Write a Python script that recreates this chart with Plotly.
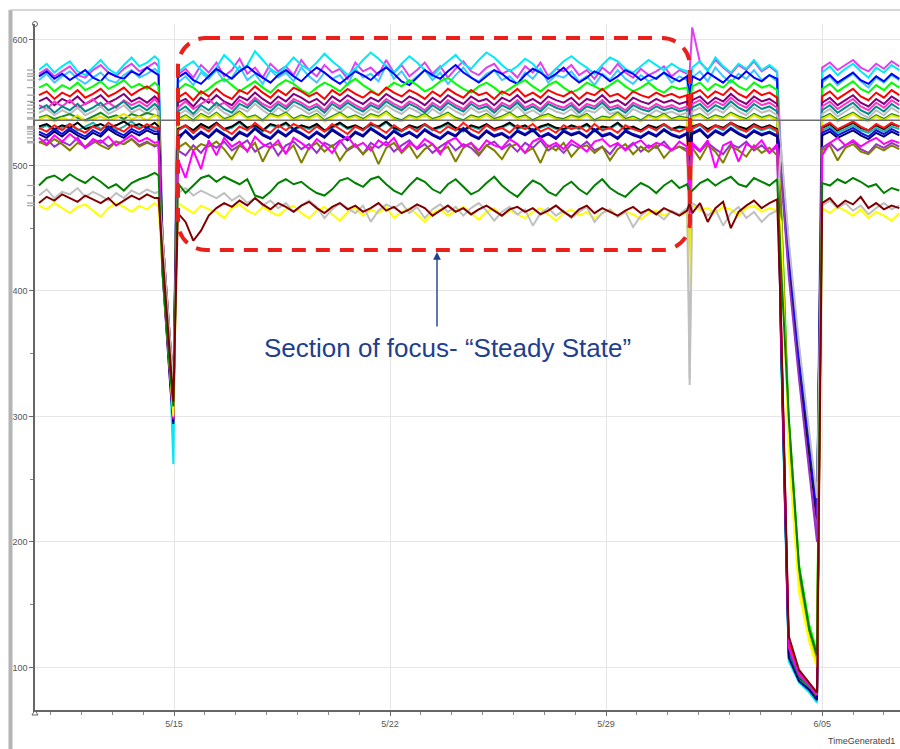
import plotly.graph_objects as go
import pandas as pd

# ------------------------------------------------------------------
# Time layout of the record: steady runs separated by shutdown dips.
# ------------------------------------------------------------------
SEG_A = ("2022-05-10 15:00", "2022-05-14 09:00")
DROP1_TIMES = ["2022-05-14 12:00", "2022-05-14 15:00", "2022-05-14 21:00", "2022-05-14 23:30"]
SEG_B = ("2022-05-15 03:00", "2022-05-31 15:00")
TRIP_TIMES = ["2022-05-31 17:00"]
SEG_C = ("2022-05-31 19:00", "2022-06-03 13:00")
DROP2_TIMES = ["2022-06-03 16:00", "2022-06-03 22:00", "2022-06-04 06:00", "2022-06-04 14:00", "2022-06-04 20:00"]
SEG_D = ("2022-06-05 00:00", "2022-06-07 12:00")
SEGMENTS = [SEG_A, DROP1_TIMES, SEG_B, TRIP_TIMES, SEG_C, DROP2_TIMES, SEG_D]

week_ticks = ["2022-05-15", "2022-05-22", "2022-05-29", "2022-06-05"]
week_labels = ["5/15", "5/22", "5/29", "6/05"]
y_ticks = [100, 200, 300, 400, 500, 600]
ref_level = 536

# ------------------------------------------------------------------
# Sensor readings, one list per segment: A, drop 1, B, trip, C, drop 2, D
# ------------------------------------------------------------------
magenta_hi = [
    [573, 577, 571, 575, 579, 572, 570, 576, 580, 574, 571, 577, 581, 575, 578, 582],
    [579, 445, 360, 325],
    [572, 577, 570, 580, 574, 582, 571, 576, 585, 573, 578, 570, 581, 575, 579, 572, 584, 576, 571, 580, 574, 577, 569, 582, 575, 578, 572, 584, 574, 580, 571, 576, 582, 573, 579, 570, 577, 583, 575, 572, 578, 581, 573, 576, 570, 579, 574, 582, 571, 577, 575, 580, 572, 576, 569, 578, 573, 581, 574, 570, 577, 572, 575, 579, 571, 576, 573],
    [575],
    [610, 582, 576, 584, 578, 573, 580, 576, 583, 575, 579, 574],
    [510, 432, 348, 275, 215],
    [578, 582, 576, 580, 584, 578, 575, 581, 577, 583, 579],
]
sky = [
    [568, 573, 566, 571, 575, 569, 565, 570, 574, 568, 566, 572, 576, 570, 573, 577],
    [574, 440, 352, 318],
    [566, 571, 564, 574, 569, 576, 567, 570, 579, 568, 573, 565, 576, 570, 574, 567, 578, 571, 566, 574, 569, 572, 564, 577, 570, 573, 567, 580, 569, 575, 566, 571, 576, 568, 574, 565, 572, 578, 570, 567, 573, 576, 568, 571, 565, 574, 569, 577, 566, 572, 570, 575, 567, 571, 564, 573, 568, 576, 569, 565, 572, 567, 570, 574, 566, 571, 568],
    [545],
    [570, 575, 567, 578, 571, 566, 573, 569, 576, 568, 572, 567],
    [505, 428, 350, 282, 228],
    [566, 571, 564, 569, 573, 567, 562, 570, 566, 572, 568],
]
cyan = [
    [576, 581, 574, 579, 583, 575, 572, 578, 584, 577, 573, 580, 586, 579, 582, 587],
    [584, 428, 333, 262],
    [574, 579, 583, 576, 571, 578, 588, 582, 575, 580, 591, 584, 577, 573, 579, 586, 580, 576, 582, 589, 583, 578, 572, 577, 584, 590, 585, 579, 574, 581, 587, 582, 576, 571, 578, 583, 588, 581, 577, 584, 590, 586, 580, 575, 579, 585, 581, 574, 570, 577, 583, 587, 582, 578, 573, 580, 586, 583, 577, 574, 579, 584, 580, 576, 581, 577, 575],
    [560],
    [578, 583, 575, 586, 579, 574, 581, 577, 584, 576, 580, 575],
    [352, 105, 88, 80, 72],
    [574, 579, 572, 577, 581, 575, 570, 578, 574, 580, 576],
]
blue = [
    [571, 575, 569, 573, 568, 572, 576, 570, 567, 574, 571, 569, 575, 572, 578, 574],
    [572, 420, 338, 300],
    [570, 574, 568, 565, 571, 577, 573, 569, 575, 579, 574, 570, 566, 572, 576, 571, 567, 573, 578, 574, 569, 565, 570, 575, 572, 568, 574, 578, 573, 567, 564, 570, 576, 572, 569, 575, 580, 574, 570, 566, 571, 576, 573, 568, 565, 572, 577, 574, 569, 573, 578, 571, 566, 570, 575, 572, 567, 571, 576, 573, 568, 572, 569, 574, 570, 567, 571],
    [555],
    [571, 568, 574, 570, 566, 572, 569, 575, 570, 567, 572, 569],
    [365, 112, 92, 83, 76],
    [568, 572, 566, 570, 574, 568, 565, 571, 567, 573, 569],
]
lime = [
    [562, 565, 559, 564, 561, 566, 560, 563, 567, 561, 564, 568, 562, 565, 561, 566],
    [563, 432, 340, 310],
    [560, 565, 562, 557, 561, 566, 569, 564, 559, 563, 567, 562, 558, 564, 568, 565, 560, 557, 562, 566, 563, 559, 565, 569, 564, 560, 556, 561, 566, 563, 568, 564, 559, 562, 567, 570, 565, 561, 558, 563, 566, 562, 557, 561, 565, 568, 563, 559, 564, 567, 562, 558, 561, 566, 563, 560, 564, 568, 563, 559, 562, 566, 561, 558, 563, 561, 562],
    [548],
    [563, 566, 560, 565, 562, 568, 563, 560, 566, 562, 564, 560],
    [470, 298, 182, 134, 112],
    [561, 565, 559, 563, 567, 561, 558, 564, 560, 566, 562],
]
red = [
    [556, 559, 553, 558, 555, 560, 554, 557, 561, 555, 558, 562, 556, 560, 563, 559],
    [557, 425, 330, 298],
    [554, 558, 552, 559, 555, 561, 556, 553, 560, 557, 563, 558, 554, 560, 556, 562, 559, 555, 558, 553, 560, 556, 561, 557, 554, 559, 556, 562, 558, 555, 560, 557, 553, 559, 555, 561, 557, 554, 560, 556, 558, 553, 559, 556, 561, 555, 558, 554, 560, 557, 555, 559, 553, 558, 556, 561, 555, 557, 553, 559, 556, 554, 558, 555, 557, 554, 556],
    [380],
    [557, 560, 554, 559, 556, 562, 557, 554, 560, 556, 558, 554],
    [372, 118, 94, 86, 78],
    [555, 559, 553, 557, 561, 555, 552, 558, 554, 560, 556],
]
purple = [
    [551, 554, 548, 553, 550, 555, 549, 552, 556, 550, 553, 557, 551, 554, 550, 555],
    [552, 438, 345, 315],
    [550, 553, 547, 554, 550, 556, 551, 548, 555, 552, 558, 553, 549, 555, 551, 557, 554, 550, 553, 548, 555, 551, 556, 552, 549, 554, 551, 557, 553, 550, 555, 552, 548, 554, 550, 556, 552, 549, 555, 551, 553, 548, 554, 551, 556, 550, 553, 549, 555, 552, 550, 554, 548, 553, 551, 556, 550, 552, 548, 554, 551, 549, 553, 550, 552, 549, 551],
    [540],
    [552, 555, 549, 554, 551, 557, 552, 549, 555, 551, 553, 549],
    [498, 418, 335, 262, 210],
    [550, 554, 548, 552, 556, 550, 547, 553, 549, 555, 551],
]
pink = [
    [548, 545, 551, 547, 552, 546, 549, 553, 547, 550, 546, 552, 548, 551, 547, 553],
    [549, 418, 328, 296],
    [546, 551, 545, 549, 553, 547, 550, 545, 552, 548, 554, 549, 546, 551, 547, 553, 550, 546, 549, 544, 551, 547, 552, 548, 545, 550, 547, 553, 549, 546, 551, 548, 544, 550, 546, 552, 548, 545, 551, 547, 549, 544, 550, 547, 552, 546, 549, 545, 551, 548, 546, 550, 544, 549, 547, 552, 546, 548, 544, 550, 547, 545, 549, 546, 548, 545, 547],
    [530],
    [549, 552, 546, 551, 548, 554, 549, 546, 552, 548, 550, 546],
    [505, 425, 340, 268, 205],
    [547, 551, 545, 549, 553, 547, 544, 550, 546, 552, 548],
]
teal = [
    [545, 548, 542, 547, 544, 549, 543, 546, 550, 544, 547, 551, 545, 548, 544, 549],
    [546, 424, 334, 305],
    [543, 547, 541, 548, 544, 550, 545, 542, 549, 546, 552, 547, 543, 549, 545, 551, 548, 544, 547, 542, 549, 545, 550, 546, 543, 548, 545, 551, 547, 544, 549, 546, 542, 548, 544, 550, 546, 543, 549, 545, 547, 542, 548, 545, 550, 544, 547, 543, 549, 546, 544, 548, 542, 547, 545, 550, 544, 546, 542, 548, 545, 543, 547, 544, 546, 543, 545],
    [525],
    [546, 549, 543, 548, 545, 551, 546, 543, 549, 545, 547, 543],
    [360, 110, 90, 84, 77],
    [544, 548, 542, 546, 550, 544, 541, 547, 543, 549, 545],
]
silver_hi = [
    [542, 545, 540, 544, 541, 546, 540, 543, 547, 541, 544, 548, 542, 545, 541, 546],
    [543, 442, 355, 322],
    [540, 544, 539, 545, 541, 547, 542, 539, 546, 543, 549, 544, 540, 546, 542, 548, 545, 541, 544, 539, 546, 542, 547, 543, 540, 545, 542, 548, 544, 541, 546, 543, 539, 545, 541, 547, 543, 540, 546, 542, 544, 539, 545, 542, 547, 541, 544, 540, 546, 543, 541, 545, 539, 544, 542, 547, 541, 543, 539, 545, 542, 540, 544, 541, 543, 540, 542],
    [330],
    [543, 546, 540, 545, 542, 548, 543, 540, 546, 542, 544, 540],
    [512, 438, 352, 284, 230],
    [541, 545, 539, 543, 547, 541, 538, 544, 540, 546, 542],
]
green_hi = [
    [538, 540, 537, 539, 541, 538, 536, 539, 542, 538, 540, 537, 541, 539, 542, 540],
    [539, 428, 336, 302],
    [537, 540, 536, 541, 538, 542, 537, 539, 543, 538, 540, 536, 541, 539, 542, 537, 540, 538, 541, 536, 539, 542, 538, 540, 537, 541, 539, 543, 538, 536, 540, 538, 541, 537, 539, 542, 538, 536, 540, 538, 541, 537, 539, 542, 538, 540, 536, 539, 541, 538, 537, 540, 538, 541, 536, 539, 538, 542, 537, 539, 536, 540, 538, 541, 537, 539, 538],
    [520],
    [539, 541, 537, 540, 538, 542, 539, 537, 541, 538, 540, 537],
    [368, 115, 93, 85, 76],
    [538, 541, 536, 539, 542, 538, 536, 540, 537, 541, 539],
]
gold_hi = [
    [537, 539, 535, 538, 536, 540, 535, 537, 539, 536, 538, 541, 537, 539, 536, 540],
    [538, 435, 348, 320],
    [536, 539, 535, 540, 537, 541, 536, 538, 542, 537, 539, 535, 540, 538, 541, 536, 539, 537, 540, 535, 538, 541, 537, 539, 536, 540, 538, 542, 537, 535, 539, 537, 540, 536, 538, 541, 537, 535, 539, 537, 540, 536, 538, 541, 537, 539, 535, 538, 540, 537, 536, 539, 537, 540, 535, 538, 537, 541, 536, 538, 535, 539, 537, 540, 536, 538, 537],
    [400],
    [538, 540, 536, 539, 537, 541, 538, 536, 540, 537, 539, 536],
    [462, 285, 170, 125, 104],
    [537, 540, 535, 538, 541, 537, 535, 539, 536, 540, 538],
]
seagreen = [
    [529, 532, 527, 530, 533, 528, 531, 534, 529, 532, 528, 531, 535, 530, 532, 529],
    [529, 440, 355, 320],
    [528, 531, 526, 532, 529, 533, 528, 530, 534, 529, 531, 527, 532, 530, 533, 528, 531, 529, 532, 527, 530, 533, 529, 531, 528, 532, 530, 534, 529, 527, 531, 529, 532, 528, 530, 533, 529, 527, 531, 529, 532, 528, 530, 533, 529, 531, 527, 530, 532, 529, 528, 531, 529, 532, 527, 530, 529, 533, 528, 530, 527, 531, 529, 532, 528, 530, 529],
    [505],
    [529, 532, 527, 531, 528, 533, 529, 527, 531, 528, 530, 527],
    [506, 428, 345, 280, 226],
    [528, 531, 526, 529, 532, 528, 526, 530, 527, 531, 529],
]
black = [
    [531, 533, 529, 532, 530, 534, 529, 531, 533, 530, 532, 535, 531, 533, 530, 534],
    [531, 445, 358, 324],
    [529, 532, 528, 533, 530, 534, 529, 531, 535, 530, 532, 528, 533, 531, 534, 529, 532, 530, 533, 528, 531, 534, 530, 532, 529, 533, 531, 535, 530, 528, 532, 530, 533, 529, 531, 534, 530, 528, 532, 530, 533, 529, 531, 534, 530, 532, 528, 531, 533, 530, 529, 532, 530, 533, 528, 531, 530, 534, 529, 531, 528, 532, 530, 533, 529, 531, 530],
    [515],
    [531, 533, 529, 532, 530, 534, 531, 529, 533, 530, 532, 529],
    [500, 420, 338, 270, 218],
    [530, 533, 528, 531, 534, 530, 528, 532, 529, 533, 531],
]
red_lo = [
    [530, 527, 532, 528, 533, 529, 526, 531, 528, 534, 530, 527, 532, 529, 533, 530],
    [530, 422, 332, 300],
    [528, 532, 526, 531, 527, 533, 529, 525, 531, 528, 534, 529, 526, 532, 528, 533, 530, 526, 531, 527, 533, 529, 525, 531, 528, 534, 530, 526, 532, 528, 531, 527, 533, 529, 526, 531, 528, 534, 529, 526, 532, 528, 530, 526, 532, 529, 533, 527, 530, 526, 532, 529, 531, 527, 533, 528, 530, 526, 532, 529, 527, 531, 528, 533, 529, 527, 530],
    [470],
    [530, 533, 527, 532, 529, 534, 530, 527, 532, 529, 531, 528],
    [376, 120, 96, 87, 79],
    [531, 534, 529, 532, 535, 531, 528, 533, 530, 534, 531],
]
blue_lo = [
    [527, 524, 529, 525, 530, 526, 523, 528, 525, 531, 527, 524, 529, 526, 530, 527],
    [527, 436, 350, 316],
    [520, 528, 522, 527, 523, 529, 525, 521, 527, 524, 530, 525, 522, 528, 524, 529, 526, 522, 527, 523, 529, 525, 521, 527, 524, 530, 526, 522, 528, 524, 527, 523, 529, 525, 522, 527, 524, 530, 525, 522, 528, 524, 526, 522, 528, 525, 529, 523, 526, 522, 528, 525, 527, 523, 529, 524, 526, 522, 528, 525, 523, 527, 524, 529, 525, 523, 526],
    [500],
    [526, 529, 523, 528, 525, 530, 526, 523, 528, 525, 527, 524],
    [508, 430, 345, 278, 222],
    [526, 529, 524, 527, 530, 526, 523, 528, 525, 529, 526],
]
navy = [
    [525, 522, 527, 523, 528, 524, 521, 526, 523, 529, 525, 522, 527, 524, 528, 525],
    [525, 416, 326, 294],
    [523, 527, 521, 526, 522, 528, 524, 520, 526, 523, 529, 524, 521, 527, 523, 528, 525, 521, 526, 522, 528, 524, 520, 526, 523, 529, 525, 521, 527, 523, 526, 522, 528, 524, 521, 526, 523, 529, 524, 521, 527, 523, 525, 521, 527, 524, 528, 522, 525, 521, 527, 524, 526, 522, 528, 523, 525, 521, 527, 524, 522, 526, 523, 528, 524, 522, 525],
    [510],
    [525, 528, 522, 527, 524, 529, 525, 522, 527, 524, 526, 523],
    [362, 108, 89, 82, 74],
    [524, 527, 522, 525, 528, 524, 521, 526, 523, 527, 524],
]
violet = [
    [518, 521, 515, 519, 516, 522, 514, 518, 520, 515, 519, 517, 521, 516, 519, 515],
    [517, 430, 342, 312],
    [512, 508, 516, 510, 518, 514, 519, 512, 516, 520, 511, 515, 518, 508, 516, 519, 513, 517, 510, 518, 515, 520, 512, 516, 509, 518, 514, 519, 511, 516, 520, 513, 517, 510, 515, 519, 512, 517, 514, 508, 516, 519, 513, 517, 511, 518, 514, 520, 512, 516, 510, 517, 514, 519, 512, 515, 509, 517, 513, 518, 511, 516, 514, 519, 512, 515, 513],
    [495],
    [516, 511, 518, 513, 509, 517, 514, 519, 512, 516, 510, 515],
    [495, 412, 330, 258, 200],
    [514, 518, 512, 516, 519, 513, 510, 517, 514, 518, 515],
]
olive = [
    [519, 516, 521, 517, 512, 518, 515, 520, 516, 513, 519, 517, 521, 515, 518, 516],
    [516, 426, 337, 306],
    [514, 518, 512, 517, 515, 519, 513, 505, 516, 512, 518, 503, 515, 517, 510, 516, 502, 514, 518, 511, 516, 504, 513, 517, 509, 515, 501, 514, 518, 510, 516, 506, 513, 517, 511, 515, 503, 514, 518, 509, 516, 512, 505, 515, 517, 510, 514, 502, 516, 512, 518, 507, 514, 516, 510, 515, 504, 513, 517, 509, 515, 511, 516, 506, 513, 515, 511],
    [485],
    [514, 505, 516, 511, 502, 515, 512, 507, 516, 510, 514, 508],
    [468, 290, 176, 130, 108],
    [512, 516, 504, 514, 517, 511, 509, 515, 512, 516, 513],
]
magenta_lo = [
    [522, 517, 524, 519, 525, 520, 514, 521, 518, 523, 516, 520, 524, 519, 522, 518],
    [519, 420, 330, 298],
    [505, 490, 512, 497, 520, 508, 522, 515, 519, 511, 523, 517, 514, 520, 509, 522, 518, 513, 521, 516, 510, 519, 523, 515, 518, 512, 520, 516, 522, 511, 518, 514, 521, 517, 509, 519, 522, 515, 518, 512, 520, 516, 514, 521, 517, 510, 519, 522, 515, 518, 513, 520, 516, 511, 519, 521, 515, 518, 512, 517, 520, 514, 518, 516, 512, 519, 515],
    [460],
    [518, 512, 520, 498, 516, 519, 503, 517, 514, 520, 510, 517],
    [370, 116, 95, 86, 78],
    [508, 518, 522, 516, 520, 515, 519, 522, 517, 520, 518],
]
yellow_lo = [
    [468, 465, 470, 466, 462, 467, 469, 464, 459, 466, 470, 467, 463, 468, 465, 470],
    [467, 418, 330, 300],
    [470, 466, 462, 468, 465, 463, 458, 466, 469, 464, 461, 467, 463, 460, 465, 468, 462, 458, 464, 467, 461, 456, 463, 466, 460, 465, 462, 467, 458, 463, 466, 461, 455, 462, 465, 460, 464, 467, 462, 457, 463, 466, 460, 464, 461, 458, 463, 466, 461, 456, 462, 465, 460, 463, 458, 462, 465, 459, 463, 461, 457, 462, 464, 460, 463, 461, 462],
    [400],
    [468, 464, 466, 462, 467, 465, 460, 466, 468, 463, 466, 464],
    [455, 270, 160, 120, 100],
    [466, 462, 467, 464, 460, 465, 458, 463, 460, 456, 462],
]
silver_lo = [
    [476, 481, 474, 479, 477, 482, 475, 479, 476, 472, 478, 474, 480, 477, 481, 478],
    [479, 445, 360, 328],
    [478, 482, 476, 480, 477, 474, 478, 472, 476, 470, 474, 468, 472, 466, 470, 463, 468, 472, 467, 458, 465, 470, 466, 462, 468, 455, 464, 469, 466, 470, 462, 467, 458, 465, 469, 463, 467, 460, 466, 470, 464, 456, 463, 467, 461, 465, 452, 462, 466, 460, 464, 458, 463, 467, 455, 462, 465, 459, 463, 451, 460, 465, 462, 457, 464, 461, 466],
    [325],
    [470, 466, 460, 465, 452, 462, 467, 458, 463, 455, 461, 464],
    [515, 440, 358, 290, 235],
    [468, 472, 466, 470, 464, 468, 461, 466, 470, 465, 468],
]
green_lo = [
    [484, 490, 492, 488, 493, 489, 486, 491, 487, 482, 485, 480, 486, 489, 491, 494],
    [492, 415, 335, 308],
    [486, 478, 484, 490, 492, 487, 491, 488, 485, 489, 476, 474, 479, 486, 489, 485, 487, 482, 478, 476, 481, 488, 490, 486, 483, 489, 491, 485, 480, 477, 484, 490, 487, 481, 478, 485, 489, 483, 477, 480, 486, 491, 484, 479, 475, 482, 488, 485, 479, 476, 483, 487, 481, 477, 484, 489, 482, 478, 475, 481, 486, 483, 478, 484, 488, 482, 485],
    [478],
    [480, 486, 489, 484, 488, 491, 485, 483, 490, 487, 484, 489],
    [420, 300, 180, 130, 110],
    [486, 484, 489, 486, 490, 487, 483, 485, 478, 482, 480],
]
maroon = [
    [470, 475, 472, 477, 474, 471, 476, 473, 470, 474, 468, 472, 476, 473, 477, 474],
    [474, 430, 345, 312],
    [462, 455, 440, 448, 460, 466, 470, 467, 472, 468, 474, 469, 465, 470, 467, 463, 468, 471, 466, 462, 467, 470, 465, 468, 463, 466, 470, 464, 467, 462, 465, 469, 466, 460, 464, 468, 463, 466, 461, 465, 468, 464, 460, 465, 467, 463, 466, 461, 464, 468, 463, 459, 465, 468, 462, 466, 463, 460, 464, 467, 462, 465, 461, 466, 463, 460, 464],
    [470],
    [462, 470, 455, 466, 471, 450, 463, 468, 472, 466, 470, 473],
    [378, 125, 98, 88, 80],
    [470, 474, 467, 472, 469, 475, 466, 470, 465, 468, 466],
]

# Drawing order (first drawn sits underneath) and line colours
SERIES = [
    (magenta_hi, "#E040F0"), (sky, "#3EC8FF"), (cyan, "#00EAF5"), (blue, "#0000FF"),
    (lime, "#00FF00"), (red, "#FF0000"), (purple, "#800080"), (pink, "#FF33CC"),
    (teal, "#008B8B"), (silver_hi, "#BDBDBD"), (green_hi, "#1E8C1E"), (gold_hi, "#E6E600"),
    (seagreen, "#20B2AA"), (black, "#000000"), (red_lo, "#FF1A1A"), (blue_lo, "#1010E0"),
    (navy, "#000080"), (violet, "#9932CC"), (olive, "#808000"), (magenta_lo, "#FF00FF"),
    (yellow_lo, "#FFFF00"), (silver_lo, "#C0C0C0"), (green_lo, "#008000"), (maroon, "#800000"),
]


def seg_times(spec, n):
    if isinstance(spec, tuple):
        return list(pd.date_range(spec[0], spec[1], periods=n))
    if len(spec) == n:
        return list(pd.to_datetime(spec))
    return list(pd.date_range(spec[0], spec[-1], periods=n))


fig = go.Figure()
for vals, color in SERIES:
    xs, ys = [], []
    for spec, seg in zip(SEGMENTS, vals):
        xs += seg_times(spec, len(seg))
        ys += seg
    fig.add_trace(go.Scatter(x=xs, y=ys, mode="lines",
                             line=dict(color=color, width=2),
                             showlegend=False, hoverinfo="skip"))

# ---- pixel helpers for the plot frame (plot area 35..900 x 24..710) ----
W, H = 900, 749
ML, MR, MT, MB = 35, 0, 24, 39
PW, PH = W - ML - MR, H - MT - MB


def px(x):
    return (x - ML) / PW


def py(y):
    return (H - MB - y) / PH


shapes = []
# reference level line
shapes.append(dict(type="line", xref="paper", yref="y", x0=0, x1=1, y0=ref_level, y1=ref_level,
                   line=dict(color="#6E6E6E", width=1.5), layer="above"))
# start-value markers left of the value axis
for vals, color in SERIES:
    v0 = vals[0][0]
    shapes.append(dict(type="line", xref="paper", yref="y", x0=px(27), x1=px(34.5), y0=v0, y1=v0,
                       line=dict(color="#A8A8A8", width=1.3), layer="above"))

# rounded dashed box around the steady-state section
L, T, R, B, r = 178, 38, 690, 250, 28
k = 0.5523 * r


def P(x, y):
    return f"{px(x):.5f},{py(y):.5f}"


path = (f"M {P(L + r, T)} L {P(R - r, T)} "
        f"C {P(R - r + k, T)} {P(R, T + r - k)} {P(R, T + r)} "
        f"L {P(R, B - r)} "
        f"C {P(R, B - r + k)} {P(R - r + k, B)} {P(R - r, B)} "
        f"L {P(L + r, B)} "
        f"C {P(L + r - k, B)} {P(L, B - r + k)} {P(L, B - r)} "
        f"L {P(L, T + r)} "
        f"C {P(L, T + r - k)} {P(L + r - k, T)} {P(L + r, T)} Z")
shapes.append(dict(type="path", xref="paper", yref="paper", path=path,
                   line=dict(color="#E8211C", width=4, dash="14px,10px"), layer="above"))

# window frame: left bar and top rule
shapes.append(dict(type="rect", xref="paper", yref="paper", x0=px(8.5), x1=px(12.5),
                   y0=py(749), y1=py(10), line=dict(width=0), fillcolor="#B4B4B4", layer="above"))
shapes.append(dict(type="line", xref="paper", yref="paper", x0=px(10), x1=1.0, y0=py(10), y1=py(10),
                   line=dict(color="#C8C8C8", width=1.5), layer="above"))
# little axis end caps
shapes.append(dict(type="circle", xref="paper", yref="paper", x0=px(32.5), x1=px(37.5),
                   y0=py(26.5), y1=py(21.5), line=dict(color="#666666", width=1), layer="above"))
shapes.append(dict(type="path", xref="paper", yref="paper",
                   path=f"M {P(32, 715)} L {P(38, 715)} L {P(35, 710)} Z",
                   line=dict(color="#666666", width=1), layer="above"))

annotations = [
    dict(text="Section of focus- \u201cSteady State\u201d", xref="paper", yref="paper",
         x=px(447), y=py(348), xanchor="center", yanchor="middle", showarrow=False,
         font=dict(family="Liberation Sans, Arial", size=26, color="#1F3F8F")),
    dict(text="", xref="paper", yref="paper", x=px(437), y=py(252), ax=0, ay=76,
         showarrow=True, arrowhead=2, arrowsize=1.1, arrowwidth=1.4, arrowcolor="#1F3F8F",
         standoff=0),
    dict(text="TimeGenerated1", xref="paper", yref="paper", x=px(897), y=py(741),
         xanchor="right", yanchor="middle", showarrow=False,
         font=dict(family="Liberation Sans, Arial", size=9, color="#444444")),
]

fig.update_layout(
    width=W, height=H,
    margin=dict(l=ML, r=MR, t=MT, b=MB, pad=0),
    paper_bgcolor="white", plot_bgcolor="white",
    template="none",
    showlegend=False,
    shapes=shapes,
    annotations=annotations,
    font=dict(family="Liberation Sans, Arial", size=9, color="#555555"),
)
fig.update_xaxes(
    type="date", range=["2022-05-10 11:55", "2022-06-07 12:32"],
    tickvals=week_ticks, ticktext=week_labels,
    ticks="outside", ticklen=4, tickcolor="#666666",
    showline=True, linecolor="#666666", linewidth=1.5,
    showgrid=True, gridcolor="#E6E6E6", gridwidth=1, zeroline=False,
    tickfont=dict(size=9, color="#555555"),
    minor=dict(dtick=86400000, tick0="2022-05-15", ticks="outside", ticklen=3,
               tickcolor="#888888", showgrid=False),
)
fig.update_yaxes(
    range=[66.1, 612.7], tickvals=y_ticks,
    ticks="outside", ticklen=4, tickcolor="#666666",
    showline=True, linecolor="#666666", linewidth=1.5,
    showgrid=True, gridcolor="#E6E6E6", gridwidth=1, zeroline=False,
    tickfont=dict(size=9, color="#555555"),
    minor=dict(dtick=50, ticks="outside", ticklen=3, tickcolor="#888888", showgrid=False),
)

fig.write_html("out.html", config={"displayModeBar": False})
